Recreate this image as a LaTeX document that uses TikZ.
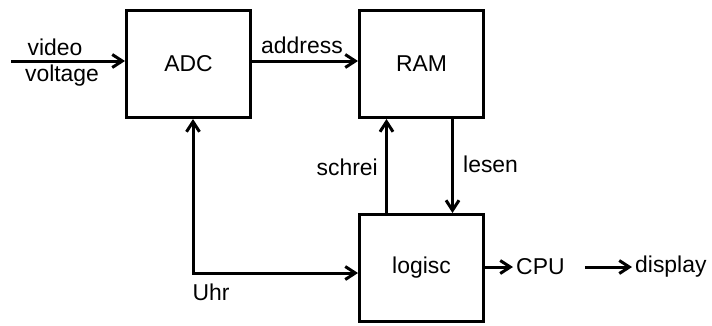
\documentclass[tikz,border=0pt]{standalone}
\usepackage{fontspec}
\setmainfont{Liberation Sans}
\usetikzlibrary{arrows.meta, positioning}

\begin{document}
\begin{tikzpicture}[
		x=1bp, y=-1bp,
		font=\fontsize{23}{27}\selectfont,
		block/.style={
			rectangle, 
			draw=black, 
			line width=3bp, 
			minimum width=124bp, 
			minimum height=107bp, 
			inner sep=0pt
		},
		txt/.style={
			inner sep=3bp
		},
		arrow/.style={
			-{Straight Barb[length=10bp, width=13bp]}, 
			line width=3bp
		},
		dblarrow/.style={
			{Straight Barb[length=10bp, width=13bp]}-{Straight Barb[length=10bp, width=13bp]}, 
			line width=3bp
		}
		]
		
		% frame of the picture
		\useasboundingbox (0,0) rectangle (712,325);
		
		% Main nodes
		\node (adc) [block] at (188.5,64) {ADC};
		\node (ram) [block, right=106bp of adc] {RAM};
		\node (logic) [block, below=94bp of ram] {logisc};
		\node (cpu) [txt, anchor=west] at (513,267) {CPU};
		\node (display) [txt, anchor=west] at (632,267) {display};
		\coordinate (vin) at (11,61);
		
		% Labels of the connections
		\node (video) [txt] at (55,47) {video};
		\node (voltage) [txt] at (62,76) {voltage};
		\node (address) [txt] at (302,45) {address};
		\node (schrei) [txt, anchor=east] at (381,167) {schrei};
		\node (lesen) [txt, anchor=west] at (460,164) {lesen};
		\node (uhr) [txt] at (211,292) {Uhr};
		
		% Connection arrows
		\draw [arrow] (vin) -- (vin -| adc.west);
		\draw [arrow] (adc.east |- vin) -- (ram.west |- vin);
		\draw [arrow] ([xshift=-35bp]logic.north) -- ([xshift=-35bp]ram.south);
		\draw [arrow] ([xshift=31bp]ram.south) -- ([xshift=31bp]logic.south |- logic.north);
		\draw [dblarrow] ([xshift=4.5bp]adc.south) |- ([yshift=-5bp]logic.west);
		\draw [arrow] (logic.east |- cpu) -- (cpu);
		\draw [arrow, shorten <=17bp] (cpu) -- (display);
		
	\end{tikzpicture}
\end{document}
